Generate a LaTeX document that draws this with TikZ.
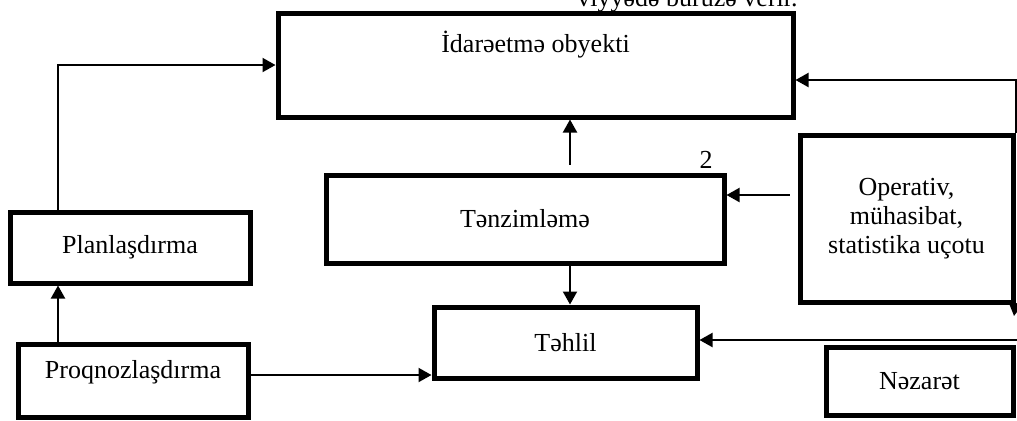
\documentclass[tikz,border=0pt]{standalone}
\usepackage{fontspec}
\setmainfont{Liberation Serif}
\usetikzlibrary{arrows.meta, positioning}

\begin{document}
\begin{tikzpicture}[x=0.5pt, y=-0.5pt, font=\fontsize{13}{14.5}\selectfont,
  >={Triangle[length=6.5pt, width=7pt]},
  blok/.style={draw, line width=2.5pt, align=center, inner sep=0pt},
  xett/.style={->, line width=1pt}]
\useasboundingbox (0,0) rectangle (1017,420);

% yuxarida kesilmis metn setri
\node[anchor=base east, inner sep=0pt] (ust) at (798,6) {viyyədə büruzə verir.};

\node[blok, minimum width=257.5pt, minimum height=52pt] (obj) at (535.5,65) {};
\node[anchor=base, inner sep=0pt] (objtxt) at ([yshift=-21pt]obj.north) {İdarəetmə obyekti};

\node[blok, minimum width=199pt, minimum height=44pt,
      below=26.5pt of obj, xshift=-5.25pt] (tenz) {Tənzimləmə};
\node (iki) at (706,160) {2};
\node[blok, minimum width=106.5pt, minimum height=83.5pt,
      right=35.5pt of tenz] (oper) {Operativ,\\ mühasibat,\\ statistika uçotu};
\node[blok, minimum width=131.5pt, minimum height=35.5pt,
      below=19.5pt of tenz, xshift=20.25pt] (tehlil) {Təhlil};
\node[blok, minimum width=93.5pt, minimum height=34pt,
      below=20pt of oper, xshift=6.5pt] (nez) {Nəzarət};

\node[blok, minimum width=120pt, minimum height=35.5pt] (plan) at (130,247.5) {Planlaşdırma};
\node[blok, minimum width=115pt, minimum height=36.5pt] (proq) at (133,380.5) {};
\node[inner sep=0pt] (proqtxt) at ([yshift=4pt]proq.center) {Proqnozlaşdırma};

% sag kenardan gelen xetler
\coordinate (sag) at (1040,340);
\coordinate (asagi) at (1014,316);

\draw[xett] ([xshift=-36pt]plan.north) |- (obj.west);
\draw[xett] ([xshift=-37.5pt]proq.north) -- ([xshift=-36pt]plan.south);
\draw[xett] ([yshift=2.75pt]proq.east) -- ([yshift=-16.25pt]tehlil.west);
\draw[xett] ([xshift=22.5pt, yshift=4pt]tenz.north) -- ([xshift=17.25pt]obj.south);
\draw[xett] ([xshift=22.5pt]tenz.south) -- ([xshift=2.25pt]tehlil.north);
\draw[xett] ([xshift=-4pt, yshift=12pt]oper.west) -- ([yshift=12pt]tenz.east);
\draw[xett] (oper.north east) |- ([yshift=-7.5pt]obj.east);
\draw[xett] (oper.south east) -- (asagi);
\draw[xett] (sag) -- ([yshift=1.25pt]tehlil.east);
\end{tikzpicture}
\end{document}
